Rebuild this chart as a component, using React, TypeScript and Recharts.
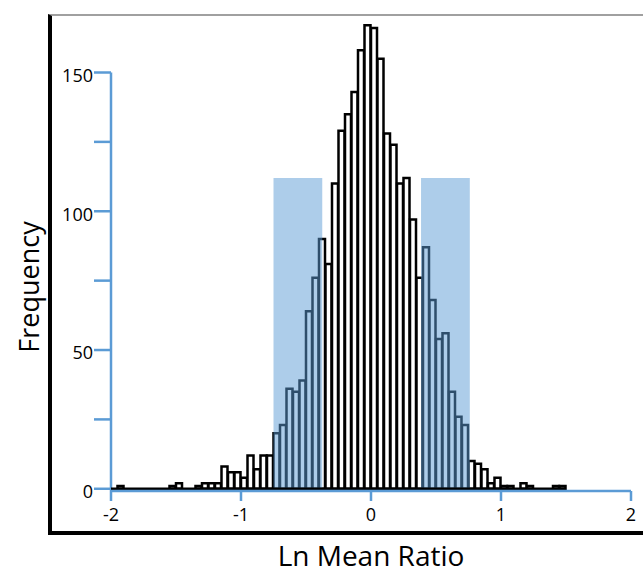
import { ComposedChart, Bar, XAxis, YAxis, ReferenceArea, ReferenceLine } from 'recharts'

// histogram counts, bins of 0.05 from -2 to 2
const counts = [
  0, 1, 0, 0, 0, 0, 0, 0, 0, 1,
  2, 0, 0, 1, 2, 2, 2, 8, 6, 6,
  4, 12, 7, 12, 12, 20, 23, 36, 35, 39,
  64, 76, 90, 81, 110, 129, 135, 143, 158, 167,
  166, 155, 128, 124, 110, 112, 97, 76, 87, 68,
  54, 56, 35, 26, 23, 10, 9, 7, 2, 4,
  1, 1, 0, 2, 1, 0, 0, 0, 1, 1,
  0, 0, 0, 0, 0, 0, 0, 0, 0, 0,
]
const binStart = -2
const binWidth = 0.05

const xTicks = [-2, -1, 0, 1, 2]
const yTicks = [0, 25, 50, 75, 100, 125, 150]
const yLabelled = [0, 50, 100, 150]
const yAxisTop = 150

// shaded ranges
const shaded = [
  { x1: -0.75, x2: -0.375 },
  { x1: 0.385, x2: 0.76 },
]
const shadedTop = 112

const chartData = counts.map((count, i) => ({
  mid: binStart + (i + 0.5) * binWidth,
  count,
}))

const BLUE = '#5b9bd5'
const FONT = '"Open Sans", sans-serif'

export default function App() {
  return (
    <div style={{ position: 'absolute', left: 0, top: 0, width: 643, height: 570, overflow: 'hidden', background: '#fff', fontFamily: FONT }}>
      <div
        style={{
          position: 'absolute',
          left: 48,
          top: 14,
          width: 700,
          height: 515,
          borderLeft: '4px solid #000',
          borderBottom: '4px solid #000',
          borderTop: '2px solid #a0a0a0',
        }}
      />
      <div
        style={{
          position: 'absolute',
          left: 28,
          top: 287,
          transform: 'translate(-50%, -50%) rotate(-90deg)',
          fontSize: 27,
          lineHeight: 1,
          whiteSpace: 'nowrap',
          color: '#000',
        }}
      >
        Frequency
      </div>
      <div
        style={{
          position: 'absolute',
          left: 371,
          top: 555,
          transform: 'translate(-50%, -50%)',
          fontSize: 28,
          lineHeight: 1,
          whiteSpace: 'nowrap',
          color: '#000',
        }}
      >
        Ln Mean Ratio
      </div>
      <div style={{ position: 'absolute', left: 0, top: 0 }}>
        <ComposedChart
          width={643}
          height={570}
          data={chartData}
          margin={{ top: 17, right: 12, bottom: 49, left: 0 }}
          barCategoryGap={0}
          barGap={0}
        >
          <XAxis
            dataKey="mid"
            type="number"
            domain={[-2, 2]}
            ticks={xTicks}
            allowDataOverflow
            height={30}
            axisLine={{ stroke: BLUE, strokeWidth: 2.5 }}
            tickLine={{ stroke: BLUE, strokeWidth: 2.5 }}
            tickSize={10}
            tickMargin={7}
            tick={{ fill: '#000', fontSize: 18, fontFamily: FONT }}
          />
          <YAxis
            type="number"
            domain={[-0.8, 170]}
            ticks={yTicks}
            interval={0}
            allowDataOverflow
            width={111}
            axisLine={false}
            tickLine={{ stroke: BLUE, strokeWidth: 2.5 }}
            tickSize={17}
            tickMargin={1}
            tickFormatter={(v: number) => (yLabelled.includes(v) ? String(v) : '')}
            tick={{ fill: '#000', fontSize: 18, fontFamily: FONT, dy: 3 }}
          />
          <ReferenceLine
            segment={[{ x: -2, y: -0.8 }, { x: -2, y: yAxisTop }]}
            stroke={BLUE}
            strokeWidth={2.5}
          />
          <ReferenceLine
            segment={[{ x: -2, y: 0 }, { x: 1.5, y: 0 }]}
            stroke="#000"
            strokeWidth={2.5}
          />
          <Bar
            dataKey="count"
            fill="#fff"
            stroke="#000"
            strokeWidth={2.5}
            isAnimationActive={false}
          />
          {shaded.map((s, i) => (
            <ReferenceArea
              key={i}
              x1={s.x1}
              x2={s.x2}
              y1={0}
              y2={shadedTop}
              fill={BLUE}
              fillOpacity={0.5}
              stroke="none"
              zIndex={350}
            />
          ))}
        </ComposedChart>
      </div>
    </div>
  )
}
